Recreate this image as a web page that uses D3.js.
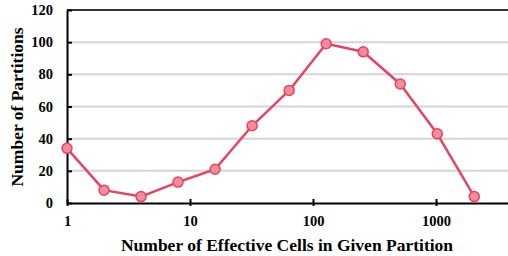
<!DOCTYPE html>
<html><head><meta charset="utf-8">
<script src="https://cdn.jsdelivr.net/npm/d3@7"></script>
<style>body{margin:0;background:#fff}svg{display:block}</style>
</head><body><svg id="c" width="508" height="256"></svg>
<script>
const cells = [1, 2, 4, 8, 16, 32, 64, 128, 256, 512, 1024, 2048];
const partitions = [34, 8, 4, 13, 21, 48, 70, 99, 94, 74, 43, 4];
const xTicks = [1, 10, 100, 1000];
const yTicks = [0, 20, 40, 60, 80, 100, 120];
const xTitle = "Number of Effective Cells in Given Partition";
const yTitle = "Number of Partitions";

const svg = d3.select("#c");
const L = 67, R = 508, T = 10, B = 203;
const x = d3.scaleLog().domain([1, Math.pow(10, (R - L) / 123)]).range([L, R]);
const y = d3.scaleLinear().domain([0, 120]).range([B, T]);
const font = "'Liberation Serif','Times New Roman',serif";

// gridlines
svg.append("g").selectAll("line").data(yTicks.filter(d => d > 0 && d < 120)).join("line")
  .attr("x1", L).attr("x2", R).attr("y1", d => y(d)).attr("y2", d => y(d))
  .attr("stroke", "#d4d4d4").attr("stroke-width", 2);
// top line
svg.append("line").attr("x1", L).attr("x2", R).attr("y1", y(120)).attr("y2", y(120))
  .attr("stroke", "#333").attr("stroke-width", 2);

// y axis
const yAxis = svg.append("g").attr("transform", `translate(${L},0)`)
  .call(d3.axisLeft(y).tickValues(yTicks).tickSizeInner(-5).tickSizeOuter(0).tickPadding(14));
yAxis.select(".domain").attr("stroke", "#000").attr("stroke-width", 2);
yAxis.selectAll(".tick line").attr("stroke", "#000").attr("stroke-width", 2);
yAxis.selectAll("text").attr("font-family", font).attr("font-weight", "bold").attr("font-size", 14.5).attr("fill", "#000");

// x axis
const xAxis = svg.append("g").attr("transform", `translate(0,${B})`)
  .call(d3.axisBottom(x).tickValues(xTicks).tickFormat(d3.format("d")).tickSizeInner(3).tickSizeOuter(0).tickPadding(10));
xAxis.select(".domain").attr("stroke", "#000").attr("stroke-width", 2);
xAxis.selectAll(".tick line").attr("stroke", "#000").attr("stroke-width", 2).attr("y1", -4).attr("y2", 3);
xAxis.selectAll("text").attr("font-family", font).attr("font-weight", "bold").attr("font-size", 14.5).attr("fill", "#000");

// line
const data = cells.map((c, i) => ({c, v: partitions[i]}));
svg.append("path").datum(data)
  .attr("d", d3.line().x(d => x(d.c)).y(d => y(d.v)))
  .attr("fill", "none").attr("stroke", "#e8435f").attr("stroke-width", 2.5).attr("stroke-linejoin", "round");
svg.append("g").selectAll("circle").data(data).join("circle")
  .attr("cx", d => x(d.c)).attr("cy", d => y(d.v)).attr("r", 5)
  .attr("fill", "#f08c9c").attr("stroke", "#e8435f").attr("stroke-width", 1.5);

// titles
svg.append("text").attr("x", 287).attr("y", 251).attr("text-anchor", "middle")
  .attr("font-family", font).attr("font-weight", "bold").attr("font-size", 17.5).text(xTitle);
svg.append("text").attr("transform", `translate(23,107) rotate(-90)`).attr("text-anchor", "middle")
  .attr("font-family", font).attr("font-weight", "bold").attr("font-size", 17.5).text(yTitle);
</script></body></html>
